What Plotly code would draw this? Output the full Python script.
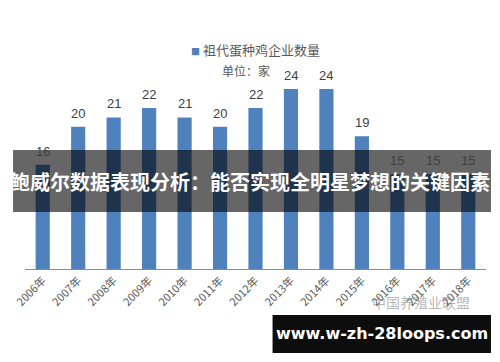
import plotly.graph_objects as go

years = ["2006年", "2007年", "2008年", "2009年", "2010年", "2011年", "2012年",
         "2013年", "2014年", "2015年", "2016年", "2017年", "2018年"]
counts = [16, 20, 21, 22, 21, 20, 22, 24, 24, 19, 15, 15, 15]
series_name = "祖代蛋种鸡企业数量"
unit_text = "单位：家"
banner_title = "鲍威尔数据表现分析：能否实现全明星梦想的关键因素"
site_text = "www.w-zh-28loops.com"
watermark = "中国养殖业联盟"

BLUE = "#4F81BD"
CJK = "Noto Sans CJK SC"

fig = go.Figure()
fig.add_trace(go.Bar(x=years, y=counts, marker=dict(color=BLUE, line=dict(width=0)),
                     name=series_name, showlegend=False))

ann = []
for yr, v in zip(years, counts):
    ann.append(dict(x=yr, y=v, text=str(v), showarrow=False, yanchor="bottom",
                    yshift=4, font=dict(size=13, color="#404040", family="Liberation Sans")))

# legend-like header
ann.append(dict(xref="paper", yref="paper", x=0.5, y=1.105, yanchor="middle", xanchor="center",
                text=f'<span style="color:{BLUE};font-size:9px">■</span> {series_name}',
                showarrow=False, font=dict(size=13, color="#595959", family=CJK)))
ann.append(dict(xref="paper", yref="paper", x=0.48, y=1.0, yanchor="middle", xanchor="center",
                text=unit_text, showarrow=False, font=dict(size=12, color="#595959", family=CJK)))
# watermark
ann.append(dict(xref="paper", yref="paper", x=0.86, y=-0.165, yanchor="middle", xanchor="center",
                text=watermark, showarrow=False, font=dict(size=14, color="rgba(120,120,120,0.55)", family=CJK)))
# banner title
ann.append(dict(xref="paper", yref="paper", x=0.4875, y=0.442, yanchor="middle", xanchor="center",
                text=f"<b>{banner_title}</b>", showarrow=False,
                font=dict(size=20, color="white", family=CJK)))
# site box text
ann.append(dict(xref="paper", yref="paper", x=0.7735, y=-0.3265, yanchor="middle", xanchor="center",
                text=f"<b>{site_text}</b>", showarrow=False,
                font=dict(size=16, color="white", family="DejaVu Sans")))

shapes = [
    dict(type="rect", xref="paper", yref="paper", x0=-0.0259, x1=1.0108, y0=0.286, y1=0.598,
         fillcolor="rgba(0,0,0,0.6)", line=dict(width=0), layer="above"),
    dict(type="rect", xref="paper", yref="paper", x0=0.537, x1=1.0108, y0=-0.422, y1=-0.231,
         fillcolor="rgba(0,0,0,0.95)", line=dict(width=0), layer="above"),
]

fig.update_layout(
    width=500, height=362,
    margin=dict(l=22, r=14, t=70, b=93),
    paper_bgcolor="white", plot_bgcolor="white",
    bargap=0.6,
    annotations=ann, shapes=shapes,
    xaxis=dict(tickangle=-45, showline=True, linecolor="#8c8c8c", linewidth=1,
               tickfont=dict(size=11, color="#595959", family=CJK), showgrid=False,
               ticks="", range=[-0.5, 12.5]),
    yaxis=dict(range=[5, 26], visible=False, showgrid=False),
)

fig.write_html("out.html")
